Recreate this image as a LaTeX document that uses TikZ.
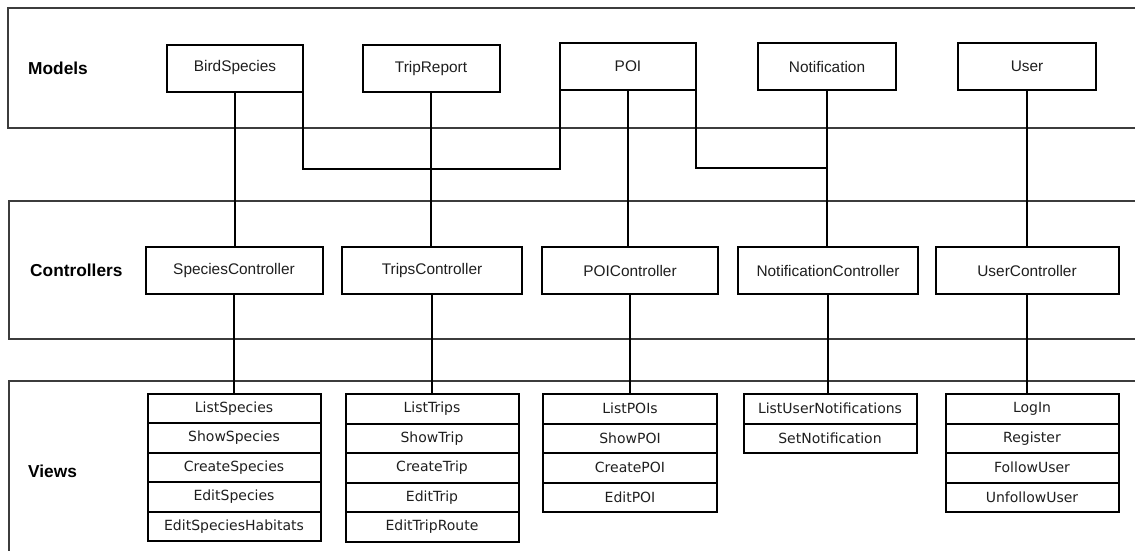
\documentclass[tikz,border=0pt]{standalone}
\usepackage{fontspec}
\setmainfont{Liberation Sans}
\newfontfamily\viewfont{DejaVu Sans}
\usetikzlibrary{positioning}
\definecolor{framegray}{RGB}{60,60,60}
\definecolor{inkgray}{RGB}{30,30,30}
\begin{document}
\begin{tikzpicture}[x=1pt,y=-1pt,
  layerframe/.style={draw=framegray,line width=1.4pt},
  layertitle/.style={anchor=west,inner sep=0pt,font=\fontsize{17.3}{20}\selectfont\bfseries},
  classbox/.style={draw=black,line width=2pt,rectangle,inner sep=0pt,outer sep=0pt,
    minimum height=47pt,text=inkgray,font=\fontsize{15.4}{18}\selectfont},
  viewbox/.style={draw=black,line width=2pt,rectangle,inner sep=0pt,outer sep=0pt,
    minimum width=173pt,minimum height=29.5pt,text=inkgray,font=\viewfont\fontsize{14}{16}\selectfont},
  link/.style={draw=black,line width=2pt}]
\useasboundingbox (0,0) rectangle (1135,550);

% layer frames (open on the right)
\draw[layerframe] (1140,8) -- (8,8) -- (8,128) -- (1140,128);
\draw[layerframe] (1140,201) -- (9,201) -- (9,339) -- (1140,339);
\draw[layerframe] (1140,381) -- (9,381) -- (9,560);

\node[layertitle] (tmodels) at (28,68) {Models};
\node[layertitle] (tctrl) at (30,270) {Controllers};
\node[layertitle] (tviews) at (28,471) {Views};

% models
\node[classbox,minimum width=136pt] (bs) at (235,68) {BirdSpecies};
\node[classbox,minimum width=137pt] (tr) at (431,68.5) {TripReport};
\node[classbox,minimum width=136pt] (poi) at (628,66.5) {POI};
\node[classbox,minimum width=138pt] (nt) at (827,66.5) {Notification};
\node[classbox,minimum width=138pt] (us) at (1027,66.5) {User};

% controllers
\node[classbox,minimum width=177pt] (sc) at (234,270.5) {SpeciesController};
\node[classbox,minimum width=180pt] (tc) at (432,270.5) {TripsController};
\node[classbox,minimum width=176pt] (pc) at (630,270.5) {POIController};
\node[classbox,minimum width=180pt] (nc) at (828,270.5) {NotificationController};
\node[classbox,minimum width=183pt] (uc) at (1027,270.5) {UserController};

% views: species
\node[viewbox,anchor=north] (sv1) at (234,393.5) {ListSpecies};
\node[viewbox,below=0pt of sv1] (sv2) {ShowSpecies};
\node[viewbox,below=0pt of sv2] (sv3) {CreateSpecies};
\node[viewbox,below=0pt of sv3] (sv4) {EditSpecies};
\node[viewbox,below=0pt of sv4] (sv5) {EditSpeciesHabitats};
% views: trips
\node[viewbox,anchor=north] (tv1) at (432,394) {ListTrips};
\node[viewbox,below=0pt of tv1] (tv2) {ShowTrip};
\node[viewbox,below=0pt of tv2] (tv3) {CreateTrip};
\node[viewbox,below=0pt of tv3] (tv4) {EditTrip};
\node[viewbox,below=0pt of tv4] (tv5) {EditTripRoute};
% views: points of interest
\node[viewbox,anchor=north,minimum width=174pt] (pv1) at (630,394) {ListPOIs};
\node[viewbox,minimum width=174pt,below=0pt of pv1] (pv2) {ShowPOI};
\node[viewbox,minimum width=174pt,below=0pt of pv2] (pv3) {CreatePOI};
\node[viewbox,minimum width=174pt,below=0pt of pv3] (pv4) {EditPOI};
% views: notifications
\node[viewbox,anchor=north] (nv1) at (830,394) {ListUserNotifications};
\node[viewbox,below=0pt of nv1] (nv2) {SetNotification};
% views: users
\node[viewbox,anchor=north] (uv1) at (1032,394) {LogIn};
\node[viewbox,below=0pt of uv1] (uv2) {Register};
\node[viewbox,below=0pt of uv2] (uv3) {FollowUser};
\node[viewbox,below=0pt of uv3] (uv4) {UnfollowUser};

% model -> controller
\draw[link] (bs.south) -- (bs.south |- sc.north);
\draw[link] (tr.south) -- (tr.south |- tc.north);
\draw[link] (poi.south) -- (poi.south |- pc.north);
\draw[link] (nt.south) -- (nt.south |- nc.north);
\draw[link] (us.south) -- (us.south |- uc.north);

% associations between models
\coordinate (busA) at (0,169);
\coordinate (busB) at (0,168);
\draw[link] (bs.south east) -- (bs.south east |- busA) -- (poi.south west |- busA) -- (poi.south west);
\draw[link] (poi.south east) -- (poi.south east |- busB) -- (nt.south |- busB);

% controller -> views
\draw[link] (sc.south) -- (sc.south |- sv1.north);
\draw[link] (tc.south) -- (tc.south |- tv1.north);
\draw[link] (pc.south) -- (pc.south |- pv1.north);
\draw[link] (nc.south) -- (nc.south |- nv1.north);
\draw[link] (uc.south) -- (uc.south |- uv1.north);
\end{tikzpicture}
\end{document}
